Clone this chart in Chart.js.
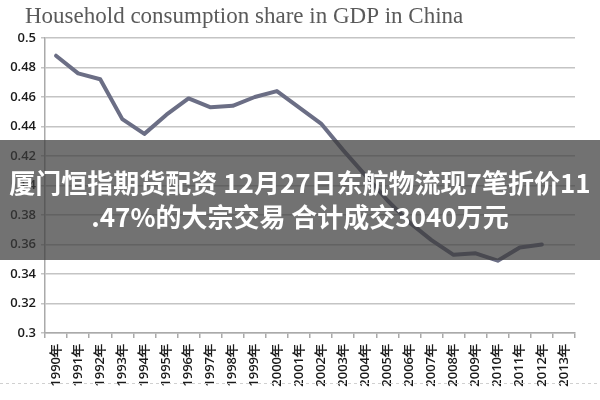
<!DOCTYPE html>
<html>
<head>
<meta charset="utf-8">
<script src="https://cdn.jsdelivr.net/npm/chart.js@4/dist/chart.umd.min.js"></script>
<style>
  html, body { margin: 0; padding: 0; background: #fff; }
  #wrap { width: 600px; height: 400px; position: relative; }
</style>
</head>
<body>
<div id="wrap"><canvas id="grafico"></canvas></div>
<script>
// dados
var anos = ["1990年","1991年","1992年","1993年","1994年","1995年","1996年","1997年",
            "1998年","1999年","2000年","2001年","2002年","2003年","2004年","2005年",
            "2006年","2007年","2008年","2009年","2010年","2011年","2012年","2013年"];
var consumo = [0.488, 0.476, 0.472, 0.445, 0.435, 0.448, 0.459, 0.453,
               0.454, 0.460, 0.464, 0.453, 0.442, 0.424, 0.407, 0.390,
               0.375, 0.363, 0.353, 0.354, 0.349, 0.358, 0.360, null];
var titulo = "Household consumption share in GDP in China";
var faixaLinhas = ["厦门恒指期货配资 12月27日东航物流现7笔折价11", ".47%的大宗交易 合计成交3040万元"];

// titulo e faixa por cima do grafico
var extras = {
  id: 'extras',
  afterDraw: function (chart) {
    var ctx = chart.ctx;
    ctx.save();
    ctx.fillStyle = '#5a5a5a';
    ctx.font = '23px "Liberation Serif", serif';
    ctx.textBaseline = 'alphabetic';
    ctx.textAlign = 'left';
    ctx.fillText(titulo, 25, 23);

    // linha tracejada de baixo
    ctx.strokeStyle = '#d0d0d0';
    ctx.lineWidth = 1;
    ctx.setLineDash([3, 3]);
    ctx.beginPath();
    ctx.moveTo(0, 383.5);
    ctx.lineTo(600, 383.5);
    ctx.stroke();
    ctx.setLineDash([]);

    // faixa cinza
    ctx.fillStyle = 'rgba(60,60,60,0.72)';
    ctx.fillRect(0, 140, 600, 120);
    ctx.fillStyle = '#ffffff';
    ctx.font = 'bold 26px "Noto Sans CJK SC", sans-serif';
    ctx.textAlign = 'center';
    ctx.textBaseline = 'middle';
    ctx.fillText(faixaLinhas[0], 300, 183);
    ctx.fillText(faixaLinhas[1], 300, 217);
    ctx.restore();
  }
};

var ctx = document.getElementById('grafico').getContext('2d');
var grafico = new Chart(ctx, {
  type: 'line',
  data: {
    labels: anos,
    datasets: [{
      label: 'consumo',
      data: consumo,
      borderColor: '#6b6e85',
      borderWidth: 4,
      pointRadius: 0,
      tension: 0,
      borderJoinStyle: 'round',
      borderCapStyle: 'round',
      fill: false
    }]
  },
  options: {
    responsive: true,
    maintainAspectRatio: false,
    animation: false,
    layout: { padding: { top: 38, right: 25, left: 0, bottom: 0 } },
    plugins: {
      legend: { display: false },
      title: { display: false },
      tooltip: { enabled: false }
    },
    scales: {
      x: {
        offset: true,
        grid: { display: true, drawOnChartArea: false, offset: true, tickLength: 5, color: '#aaaaaa', lineWidth: 1.5 },
        border: { color: '#aaaaaa', width: 1.5 },
        ticks: {
          autoSkip: false, minRotation: 90, maxRotation: 90, padding: 6,
          color: '#1a1a1a', font: { family: '"Open Sans", sans-serif', size: 13, weight: '600' }
        },
        afterFit: function (scale) { scale.height = 67; }
      },
      y: {
        min: 0.3, max: 0.5,
        grid: { color: '#c4c4c4', lineWidth: 1.5, tickLength: 4 },
        border: { color: '#aaaaaa', width: 1.5 },
        ticks: {
          stepSize: 0.02, padding: 5, color: '#1a1a1a',
          font: { family: '"Open Sans", sans-serif', size: 13, weight: '600' },
          callback: function (v) { return String(+v.toFixed(2)); }
        },
        afterFit: function (scale) { scale.width = 45; }
      }
    }
  },
  plugins: [extras]
});
</script>
</body>
</html>
